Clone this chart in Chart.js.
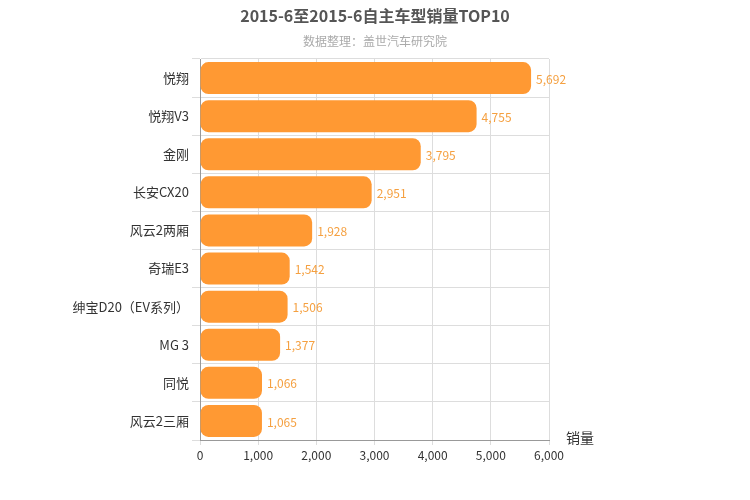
<!DOCTYPE html>
<html>
<head>
<meta charset="utf-8">
<script src="https://cdn.jsdelivr.net/npm/chart.js@4"></script>
<style>
html, body { margin: 0; padding: 0; background: #fff; }
#wrap { width: 750px; height: 500px; }
</style>
</head>
<body>
<div id="wrap"><canvas id="c" width="750" height="500"></canvas></div>
<script>
// ===== data =====
const models = ['悦翔', '悦翔V3', '金刚', '长安CX20', '风云2两厢', '奇瑞E3', '绅宝D20（EV系列）', 'MG 3', '同悦', '风云2三厢'];
const sales = [5692, 4755, 3795, 2951, 1928, 1542, 1506, 1377, 1066, 1065];
const titleText = '2015-6至2015-6自主车型销量TOP10';
const subtitleText = '数据整理：盖世汽车研究院';
const axisName = '销量';

const fontFamily = '"Noto Sans CJK SC", "DejaVu Sans", sans-serif';

// titles, value labels, axis name
const decor = {
    id: 'decor',
    afterDatasetsDraw(chart) {
        const ctx = chart.ctx;
        ctx.save();
        ctx.textAlign = 'center';
        ctx.textBaseline = 'middle';
        ctx.fillStyle = '#555';
        ctx.font = 'bold 16px ' + fontFamily;
        ctx.fillText(titleText, 375, 16);
        ctx.fillStyle = '#aaa';
        ctx.font = '12px ' + fontFamily;
        ctx.fillText(subtitleText, 375, 41);

        ctx.fillStyle = '#333';
        ctx.font = '14px ' + fontFamily;
        ctx.fillText(axisName, 580, 438);

        ctx.textAlign = 'left';
        ctx.fillStyle = '#F5A040';
        ctx.font = '12px ' + fontFamily;
        chart.getDatasetMeta(0).data.forEach((bar, i) => {
            ctx.fillText(sales[i].toLocaleString('en-US'), bar.x + 5, bar.y + 1);
        });
        ctx.restore();
    }
};

new Chart(document.getElementById('c'), {
    type: 'bar',
    data: {
        labels: models,
        datasets: [{
            data: sales,
            backgroundColor: '#FF9933',
            borderRadius: 8,
            borderSkipped: false,
            barPercentage: 0.84,
            categoryPercentage: 1
        }]
    },
    options: {
        indexAxis: 'y',
        responsive: false,
        animation: false,
        layout: { padding: { top: 59, right: 201, bottom: 38, left: 0 } },
        plugins: { legend: { display: false }, tooltip: { enabled: false } },
        scales: {
            x: {
                min: 0, max: 6000,
                ticks: {
                    stepSize: 1000, color: '#333',
                    font: { size: 12, family: fontFamily },
                    callback: v => v.toLocaleString('en-US')
                },
                grid: { color: '#ddd', tickLength: 5 },
                border: { color: '#999' },
                afterFit(s) { s.height = 22; }
            },
            y: {
                ticks: { color: '#333', font: { size: 13, family: fontFamily } },
                grid: { color: '#ddd', offset: true },
                border: { color: '#999' },
                afterFit(s) { s.width = 200; }
            }
        }
    },
    plugins: [decor]
});
</script>
</body>
</html>
